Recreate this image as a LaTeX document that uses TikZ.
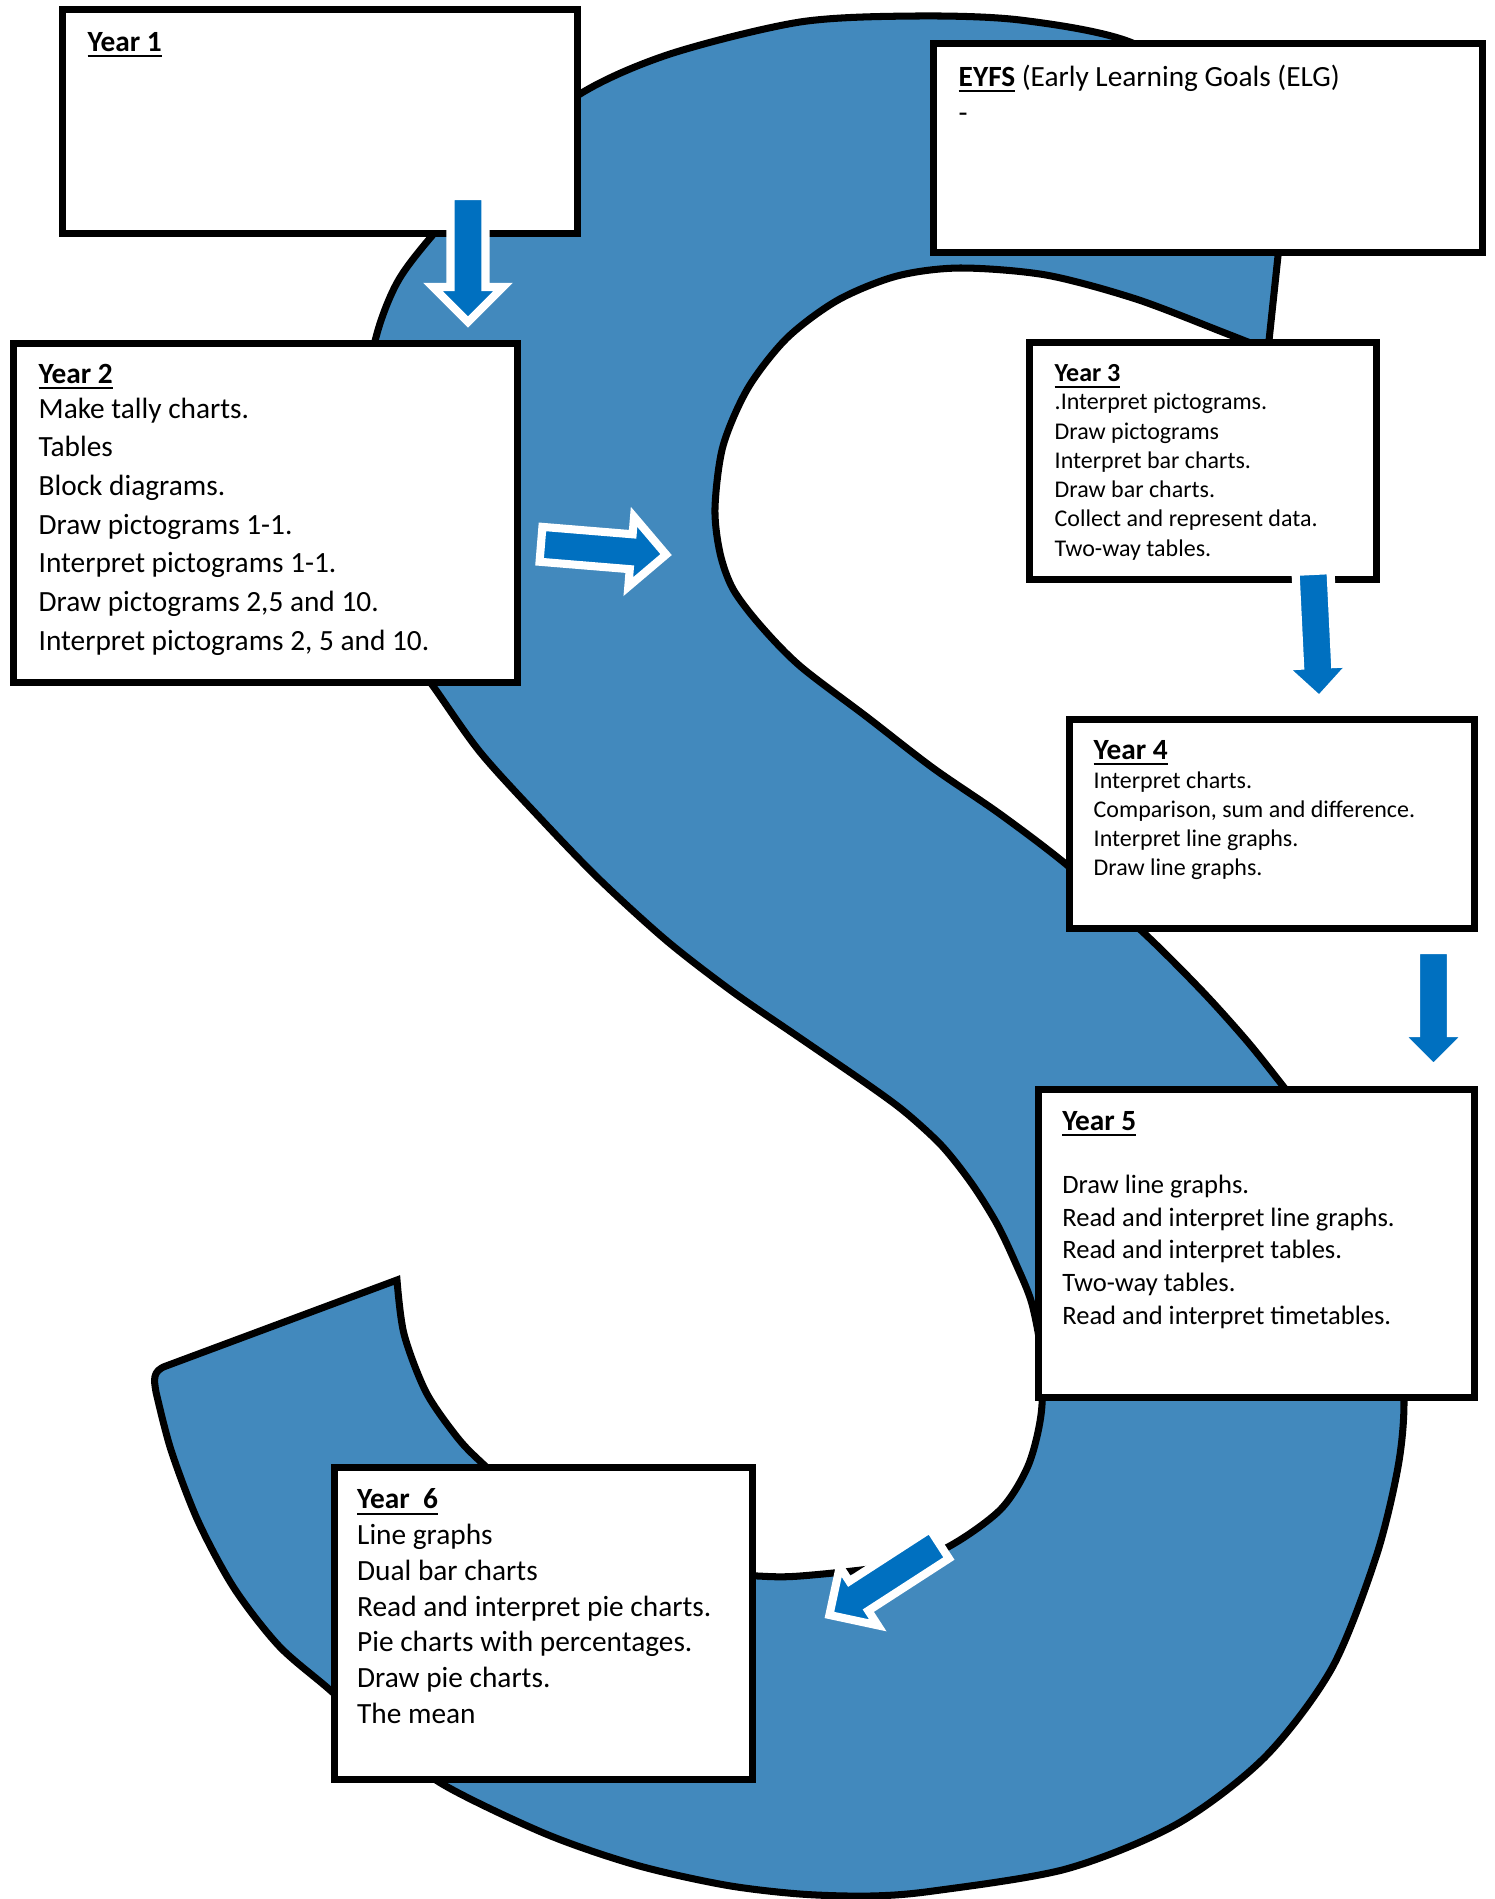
\documentclass[tikz,border=0pt]{standalone}
\usepackage{fontspec}
\setmainfont{Carlito}
\usepackage{xcolor}
\definecolor{sblue}{RGB}{66,137,189}
\definecolor{arrowblue}{RGB}{0,112,192}
\newcommand{\yeartitle}[1]{\underline{\textbf{#1}}}
\newcommand{\blockarrow}[3]{\filldraw[blkarrow, shift={(#1)}, rotate=#2] (0,-17.5) -- (#3-35,-17.5) -- (#3-35,-35) -- (#3,0) -- (#3-35,35) -- (#3-35,17.5) -- (0,17.5) -- cycle;}
\begin{document}
\begin{tikzpicture}[x=0.01cm,y=-0.01cm]
	\tikzstyle{every node}+=[inner sep=0pt]
	\tikzstyle{yearbox}=[draw=black, line width=2pt, fill=white]
	\tikzstyle{yeartext}=[anchor=base west]
	\tikzstyle{sshape}=[fill=sblue, draw=black, line width=2pt]
	\tikzstyle{blkarrow}=[fill=arrowblue, draw=white, line width=2.3pt]
	\useasboundingbox (0,0) rectangle (1495,1899);
	\filldraw[sshape] plot[smooth, tension=0.5] coordinates {(1285,190) (1225,100) (1130,42) (1020,20) (916,16) (800,22) (670,54) (580,94) (500,160) (431,237) (398,281) (378,330) (363,400) (358,470) (366,560) (392,630) (433,686) (480,752) (540,818) (600,880) (667,941) (733,992) (800,1038) (867,1084) (905,1112) (942,1146) (972,1184) (997,1224) (1016,1264) (1032,1304) (1042,1360) (1041,1415) (1028,1466) (1000,1510) (946,1548) (889,1566) (800,1576) (758,1576) (700,1571) (620,1553) (540,1515) (482,1463) (457,1437) (426,1392) (404,1334) (397,1280)}
		-- (166,1366) .. controls (152,1371) and (154,1380) .. (156,1392)
		-- plot[smooth, tension=0.5] coordinates {(156,1392) (171,1450) (198,1521) (234,1588) (279,1646) (330,1690) (385,1740) (444,1785) (546,1834) (636,1865) (725,1885) (800,1894) (870,1896) (933,1891) (1066,1869) (1177,1824) (1265,1757) (1332,1668) (1376,1557) (1398,1467) (1404,1400) (1397,1315) (1372,1230) (1332,1150) (1283,1086) (1247,1041) (1203,992) (1145,934) (1067,865) (1000,814) (933,768) (867,717) (800,666) (760,625) (733,589) (720,553) (715,508) (723,446) (748,388) (787,338) (838,300) (897,276) (960,268) (1046,275) (1136,299) (1225,333) (1268,350)}
		-- cycle;
	\node[yearbox, minimum width=5.14cm, minimum height=2.23cm] (y1) at (320,121.5) {};
	\node[yearbox, minimum width=5.48cm, minimum height=2.08cm] (eyfs) at (1208,148) {};
	\node[yearbox, minimum width=5.03cm, minimum height=3.38cm] (y2) at (265.5,513) {};
	\node[yearbox, minimum width=3.46cm, minimum height=2.36cm] (y3) at (1203,461) {};
	\node[yearbox, minimum width=4.04cm, minimum height=2.08cm] (y4) at (1272,824) {};
	\node[yearbox, minimum width=4.35cm, minimum height=3.07cm] (y5) at (1256.5,1243.5) {};
	\node[yearbox, minimum width=4.17cm, minimum height=3.11cm] (y6) at (543.5,1623.5) {};
	\node[yeartext] (y1txt) at (87,51) {\parbox[t]{4cm}{\fontsize{8.34}{10.2}\selectfont\yeartitle{Year 1}}};
	\node[yeartext] (eyfstxt) at (958,86) {\parbox[t]{5cm}{\fontsize{8.34}{10.24}\selectfont\yeartitle{EYFS} (Early Learning Goals (ELG)\\ -}};
	\node[yeartext] (y2txt) at (38,383) {\parbox[t]{4.7cm}{\fontsize{8.34}{11.01}\selectfont\yeartitle{Year 2}\\[-1.05pt]
		Make tally charts.\\ Tables\\ Block diagrams.\\ Draw pictograms 1-1.\\ Interpret pictograms 1-1.\\ Draw pictograms 2,5 and 10.\\ Interpret pictograms 2, 5 and 10.}};
	\node[yeartext] (y3txt) at (1054,381.7) {\parbox[t]{3.2cm}{\fontsize{7.4}{8.32}\selectfont\yeartitle{Year 3}\\[-0.32pt]
		\fontsize{6.82}{8.32}\selectfont .Interpret pictograms.\\ Draw pictograms\\ Interpret bar charts.\\ Draw bar charts.\\ Collect and represent data.\\ Two-way tables.}};
	\node[yeartext] (y4txt) at (1093,759) {\parbox[t]{3.7cm}{\fontsize{8.34}{8.26}\selectfont\yeartitle{Year 4}\\[0.22pt]
		\fontsize{6.82}{8.26}\selectfont Interpret charts.\\ Comparison, sum and difference.\\ Interpret line graphs.\\ Draw line graphs.}};
	\node[yeartext] (y5txt) at (1061.6,1130) {\parbox[t]{4cm}{\fontsize{8.34}{9.26}\selectfont\yeartitle{Year 5}\\[8.89pt]
		\fontsize{7.55}{9.26}\selectfont Draw line graphs.\\ Read and interpret line graphs.\\ Read and interpret tables.\\ Two-way tables.\\ Read and interpret timetables.}};
	\node[yeartext] (y6txt) at (356.5,1508.7) {\parbox[t]{3.9cm}{\fontsize{8.34}{10.15}\selectfont\yeartitle{Year~~6}\\[0.09pt]
		Line graphs\\ Dual bar charts\\ Read and interpret pie charts.\\ Pie charts with percentages.\\ Draw pie charts.\\ The mean}};
	\coordinate (a12) at (468,196);
	\coordinate (a2s) at (541,544.3);
	\coordinate (a34) at (1313,571);
	\coordinate (a45) at (1433.5,950);
	\coordinate (a56) at (939.4,1543.8);
	\blockarrow{a12}{-90}{126}
	\blockarrow{a2s}{-4.7}{125.5}
	\blockarrow{a34}{-87.2}{129}
	\blockarrow{a45}{-90}{118}
	\blockarrow{a56}{212.9}{131}
\end{tikzpicture}
\end{document}
